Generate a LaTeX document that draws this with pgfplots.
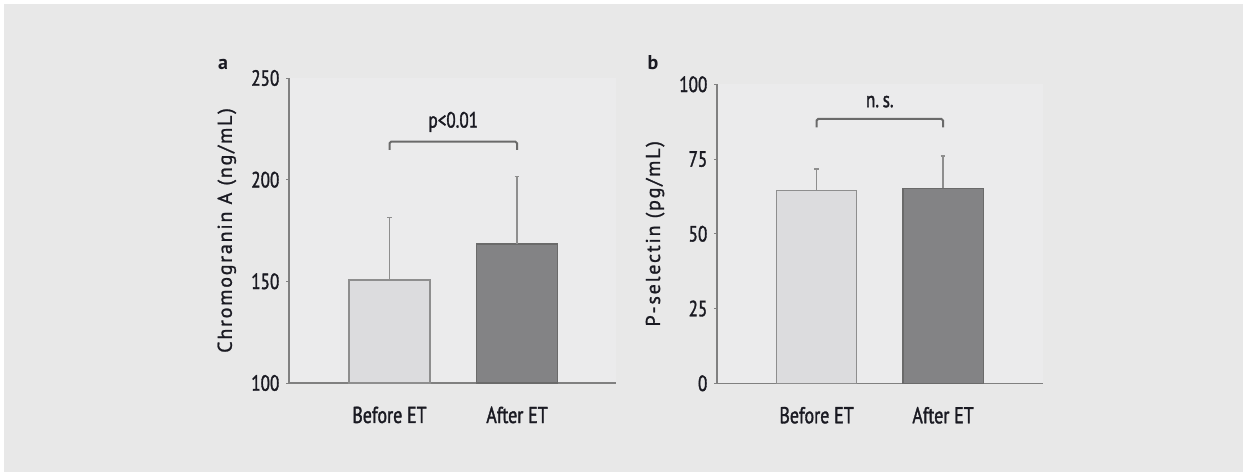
\documentclass[border=0pt]{standalone}
\usepackage{pgfplots}
\pgfplotsset{compat=1.18}
\usepackage{fontspec}
\setmainfont{PT Sans}
\newfontfamily\condfont[FakeStretch=0.78, FakeBold=1.5]{PT Sans}
\newfontfamily\labelfont[LetterSpace=9, FakeBold=1.2]{PT Sans}
\definecolor{bgout}{HTML}{E8E8E8}
\definecolor{bgin}{HTML}{EBEBEC}
\definecolor{axgray}{HTML}{808080}
\definecolor{lightbar}{HTML}{DCDCDE}
\definecolor{lightedge}{HTML}{8E8E8E}
\definecolor{darkbar}{HTML}{838385}
\definecolor{darkedge}{HTML}{6A6A6A}
\definecolor{txt}{HTML}{1A1A22}
\tikzset{bracket/.style={draw=darkedge, line width=1pt, rounded corners=0.8pt}}
\pgfplotsset{
  panel/.style={
    scale only axis,
    anchor=south west,
    axis x line=bottom,
    axis y line=left,
    axis line style={-, draw=axgray, line width=0.7pt},
    axis background/.style={fill=bgin},
    xtick={0,1},
    xticklabels={Before ET, After ET},
    xtick style={draw=none},
    ytick style={draw=axgray, line width=0.5pt},
    tick align=outside,
    major tick length=1.3pt,
    /pgf/number format/assume math mode=true,
    tick label style={font=\condfont\fontsize{11}{12}\selectfont, text=txt},
    xticklabel style={yshift=-7pt, font=\condfont\fontsize{11.5}{12}\selectfont},
    ylabel style={at={(axis description cs:-0.19,0.5)}, anchor=center, font=\labelfont\fontsize{10}{12}\selectfont, text=txt},
    ybar,
    bar width=0.635,
    bar shift=0pt,
    error bars/y dir=plus,
    error bars/y explicit,
    error bars/error mark=-,
    error bars/error mark options={draw=lightedge, mark size=1.2pt, line width=0.7pt, rotate=90},
    error bars/error bar style={draw=lightedge, line width=0.7pt},
  },
}
\begin{document}
\begin{tikzpicture}
\useasboundingbox (0,0) rectangle (621.5pt,236.5pt);
\fill[white] (0,0) rectangle (621.5pt,236.5pt);
\fill[bgout] (2pt,0.5pt) rectangle (621.5pt,234.5pt);

\begin{axis}[panel,
  at={(144.5pt,45pt)},
  width=163.5pt, height=152.5pt,
  xmin=-0.788, xmax=1.776,
  ymin=100, ymax=250,
  ytick={100,150,200,250},
  ylabel={Chromogranin A (ng/mL)},
]
\addplot[fill=lightbar, draw=lightedge, line width=0.7pt] coordinates {(0,150.7) +- (0,30.6)};
\addplot[fill=darkbar, draw=darkedge, line width=0.7pt] coordinates {(1,168.4) +- (0,33.1)};
\draw[bracket] (axis cs:0,214.6) -- (axis cs:0,218.7) -- (axis cs:1,218.7) -- (axis cs:1,214.6);
\node[font=\condfont\fontsize{11}{12}\selectfont, text=txt] at (axis cs:0.5,228.4) {p<0.01};
\end{axis}

\begin{axis}[panel,
  at={(358.5pt,44.85pt)},
  width=163pt, height=149.5pt,
  xmin=-0.787, xmax=1.79,
  ymin=0, ymax=100,
  ytick={0,25,50,75,100},
  ylabel={P-selectin (pg/mL)},
]
\addplot[fill=lightbar, draw=lightedge, line width=0.7pt] coordinates {(0,64.4) +- (0,7.3)};
\addplot[fill=darkbar, draw=darkedge, line width=0.7pt] coordinates {(1,65.2) +- (0,10.8)};
\draw[bracket] (axis cs:0,85.6) -- (axis cs:0,88.4) -- (axis cs:1,88.4) -- (axis cs:1,85.6);
\node[font=\condfont\fontsize{11}{12}\selectfont, text=txt] at (axis cs:0.5,94.2) {n.\,s.};
\end{axis}

\node[anchor=base, font=\bfseries\fontsize{10}{12}\selectfont, text=txt] at (111.5pt,201.75pt) {a};
\node[anchor=base, font=\bfseries\fontsize{10}{12}\selectfont, text=txt] at (326.5pt,201.75pt) {b};
\end{tikzpicture}
\end{document}
